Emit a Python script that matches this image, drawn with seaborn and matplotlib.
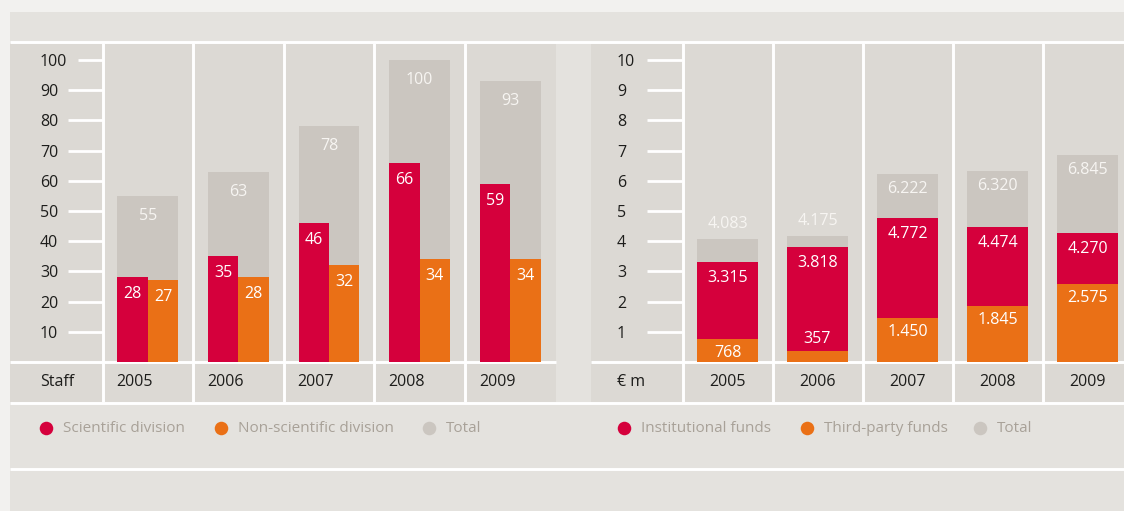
import matplotlib
matplotlib.use('Agg')
import matplotlib.pyplot as plt
from matplotlib.patches import Rectangle
import pandas as pd
import seaborn as sns

# ---- data ----
years = ['2005', '2006', '2007', '2008', '2009']

# staff (head count)
staff_scientific = [28, 35, 46, 66, 59]
staff_nonscientific = [27, 28, 32, 34, 34]
staff_total = [55, 63, 78, 100, 93]
staff_ticks = [10, 20, 30, 40, 50, 60, 70, 80, 90, 100]
staff_legend = ['Scientific division', 'Non-scientific division', 'Total']

# funds in EUR million
funds_institutional = [3.315, 3.818, 4.772, 4.474, 4.270]
funds_thirdparty = [0.768, 0.357, 1.450, 1.845, 2.575]
funds_total = [4.083, 4.175, 6.222, 6.320, 6.845]
funds_ticks = [1, 2, 3, 4, 5, 6, 7, 8, 9, 10]
funds_legend = ['Institutional funds', 'Third-party funds', 'Total']

# ---- colours ----
RED = '#d5003c'
ORANGE = '#ea7016'
GREY = '#cbc6c0'
CHART_BG = '#dcd9d4'
PANEL_BG = '#e4e2de'
OUTER_BG = '#f2f1ef'
TEXT = '#1d1d1b'
LEGEND_TEXT = '#a8a198'
BAR_TEXT = '#ffffff'
TOTAL_TEXT = '#f7f5f2'

plt.rcParams['font.family'] = ['Open Sans', 'DejaVu Sans']
FS_TICK = 11.5
FS_BAR = 11.5
FS_LEG = 11

# ---- layout in pixels ----
W, H = 1124, 511
TOP_LINE = 42
CHART_TOP = 43.5
BASE = 362        # value zero / white line under the bars
ROW_BOTTOM = 402  # bottom of the year row
LEGEND_LINE = 469
LEGEND_Y = 428

L_FRAME = 10
L_X0, L_CW = 102.5, 90.6
R_FRAME = 591
R_X0, R_CW = 682.5, 90.0


def fig_rect(x0, x1, ytop, ybot):
    return [x0 / W, 1 - ybot / H, (x1 - x0) / W, (ybot - ytop) / H]


fig = plt.figure(figsize=(W / 100, H / 100), dpi=100, facecolor=OUTER_BG)

# background structure
bg = fig.add_axes([0, 0, 1, 1], zorder=0)
bg.set_xlim(0, W)
bg.set_ylim(H, 0)
bg.axis('off')
bg.add_patch(Rectangle((L_FRAME, 12), W - L_FRAME, H - 12, color=PANEL_BG, lw=0))
l_end = L_X0 + 5 * L_CW
bg.add_patch(Rectangle((L_FRAME, CHART_TOP), l_end - L_FRAME, ROW_BOTTOM - CHART_TOP, color=CHART_BG, lw=0))
bg.add_patch(Rectangle((R_FRAME, CHART_TOP), W - R_FRAME, ROW_BOTTOM - CHART_TOP, color=CHART_BG, lw=0))
lw = 2.1
bg.hlines([TOP_LINE, ROW_BOTTOM + 1, LEGEND_LINE], L_FRAME, W, color='white', lw=lw)
bg.hlines(BASE, L_FRAME, l_end, color='white', lw=lw)
bg.hlines(BASE, R_FRAME, W, color='white', lw=lw)
bg.vlines([L_X0 + i * L_CW for i in range(5)], CHART_TOP, ROW_BOTTOM, color='white', lw=lw)
bg.vlines([R_X0 + i * R_CW for i in range(5)], CHART_TOP, ROW_BOTTOM, color='white', lw=lw)
bg.text(40, 382, 'Staff', color=TEXT, fontsize=FS_TICK, va='center', ha='left')
bg.text(617, 382, '€ m', color=TEXT, fontsize=FS_TICK, va='center', ha='left')

# legends
for names, colors, xs in [(staff_legend, [RED, ORANGE, GREY], [46, 221, 429]),
                          (funds_legend, [RED, ORANGE, GREY], [624, 807, 980])]:
    for name, c, x in zip(names, colors, xs):
        bg.scatter([x], [LEGEND_Y], s=95, color=c, lw=0)
        bg.text(x + 17, LEGEND_Y, name, color=LEGEND_TEXT, fontsize=FS_LEG, va='center', ha='left')


def setup_axis(ax, ticks, px_per_unit, ytop, tick_len, label_x, x0):
    ax.set_xlim(-0.5, 4.5)
    ax.set_ylim(0, (BASE - CHART_TOP) / px_per_unit)
    ax.patch.set_visible(False)
    for sp in ax.spines.values():
        sp.set_visible(False)
    ax.set_xlabel('')
    ax.set_ylabel('')
    ax.tick_params(axis='x', length=0, labelbottom=False)
    ax.set_yticks(ticks, labels=[str(t) for t in ticks])
    pad_px = (x0 - tick_len) - label_x
    ax.tick_params(axis='y', direction='out', length=tick_len * 0.72, width=2.0,
                   color='white', pad=pad_px * 0.72, labelsize=FS_TICK, labelcolor=TEXT)
    for t in ax.get_yticklabels():
        t.set_ha('left')


def put_label(ax, x, y, text, dy, color):
    ax.annotate(text, (x, y), xytext=(0, dy), textcoords='offset pixels',
                ha='center', va='center', color=color, fontsize=FS_BAR)


# ---- left chart: staff ----
ax1 = fig.add_axes(fig_rect(L_X0, L_X0 + 5 * L_CW, CHART_TOP, BASE), zorder=1)
sns.barplot(x=years, y=staff_total, color=GREY, width=0.67, saturation=1,
            errorbar=None, ax=ax1)
staff_df = pd.DataFrame({
    'year': years * 2,
    'staff': staff_scientific + staff_nonscientific,
    'division': [staff_legend[0]] * 5 + [staff_legend[1]] * 5,
})
sns.barplot(data=staff_df, x='year', y='staff', hue='division', palette=[RED, ORANGE],
            width=0.67, dodge=True, saturation=1, errorbar=None, legend=False, ax=ax1)
setup_axis(ax1, staff_ticks, 3.02, CHART_TOP, 35.5, 40, L_X0)
ax1.yaxis.get_major_ticks()[-1].tick1line.set_markersize(25.5 * 0.72)

for cont, vals, dy, col in [(ax1.containers[0], staff_total, -20, TOTAL_TEXT),
                            (ax1.containers[1], staff_scientific, -17, BAR_TEXT),
                            (ax1.containers[2], staff_nonscientific, -17, BAR_TEXT)]:
    for bar, v in zip(cont, vals):
        put_label(ax1, bar.get_x() + bar.get_width() / 2, bar.get_height(), str(v), dy, col)
for i, y in enumerate(years):
    ax1.annotate(y, (i, 0), xycoords=('data', 'axes fraction'), xytext=(-13, -20),
                 textcoords='offset pixels', ha='center', va='center',
                 color=TEXT, fontsize=FS_TICK)

# ---- right chart: funds ----
ax2 = fig.add_axes(fig_rect(R_X0, R_X0 + 5 * R_CW, CHART_TOP, BASE), zorder=1)
for vals, c in [(funds_total, GREY), (funds_institutional, RED), (funds_thirdparty, ORANGE)]:
    sns.barplot(x=years, y=vals, color=c, width=0.68, saturation=1, errorbar=None, ax=ax2)
setup_axis(ax2, funds_ticks, 30.2, CHART_TOP, 35.5, 617, R_X0)


def fmt(v):
    return str(int(round(v * 1000))) if v < 1 else f'{v:.3f}'


for k, bar in enumerate(ax2.containers[0]):
    visible = funds_total[k] - max(funds_institutional[k], funds_thirdparty[k])
    dy = -15 if visible > 1.0 else 15
    put_label(ax2, bar.get_x() + bar.get_width() / 2, bar.get_height(), fmt(funds_total[k]), dy, TOTAL_TEXT)
for k, bar in enumerate(ax2.containers[1]):
    put_label(ax2, bar.get_x() + bar.get_width() / 2, bar.get_height(), fmt(funds_institutional[k]), -16, BAR_TEXT)
for k, bar in enumerate(ax2.containers[2]):
    dy = -14 if funds_thirdparty[k] > 0.5 else 12
    put_label(ax2, bar.get_x() + bar.get_width() / 2, bar.get_height(), fmt(funds_thirdparty[k]), dy, BAR_TEXT)
for i, y in enumerate(years):
    ax2.annotate(y, (i, 0), xycoords=('data', 'axes fraction'), xytext=(0, -20),
                 textcoords='offset pixels', ha='center', va='center',
                 color=TEXT, fontsize=FS_TICK)

fig.savefig('out.png', dpi=100, facecolor=OUTER_BG)
